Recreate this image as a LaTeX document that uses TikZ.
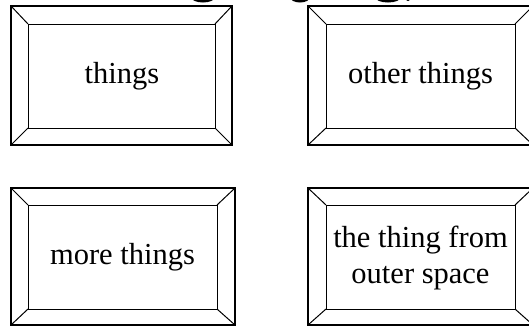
\documentclass[tikz,border=0pt]{standalone}
\usepackage{fontspec}
\setmainfont{Liberation Serif}
\newcommand\bevbox[8]{%
  \draw[outerline] (#1,#2) rectangle (#3,#4);
  \draw[innerline] (#5,#6) rectangle (#7,#8);
  \draw[innerline] (#1,#2) -- (#5,#6) (#3,#2) -- (#7,#6) (#1,#4) -- (#5,#8) (#3,#4) -- (#7,#8);
}
\tikzset{
  outerline/.style={line width=1.2pt, black},
  innerline/.style={line width=1pt, black},
  label/.style={font=\fontsize{30.5}{36}\selectfont, align=center, inner sep=0pt}
}
\begin{document}
\begin{tikzpicture}[x=1pt,y=-1pt]
\clip (0,0) rectangle (529,327);
\fill[white] (0,0) rectangle (529,327);
% clipped fragments at the top edge
\fill[black] (203,-3) ellipse [x radius=12, y radius=5.5];
\fill[black] (300,-3) ellipse [x radius=10, y radius=5.5];
\fill[black] (388,-3) ellipse [x radius=13, y radius=5.5];
\fill[black] (408,-1) circle [radius=2];
% boxes
\bevbox{11}{6}{232}{145}{28}{24}{215}{128}
\bevbox{308}{6}{533}{145}{326}{24}{515}{128}
\bevbox{11}{188}{235}{325}{28}{205}{217}{309}
\bevbox{308}{188}{533}{325}{326}{205}{515}{309}
\node[label] (a) at (122,76) {things};
\node[label] (b) at (420.5,76) {other things};
\node[label] (c) at (122.5,257) {more things};
\node[label] (d) at (420.5,258) {the thing from\\outer space};
\end{tikzpicture}
\end{document}
